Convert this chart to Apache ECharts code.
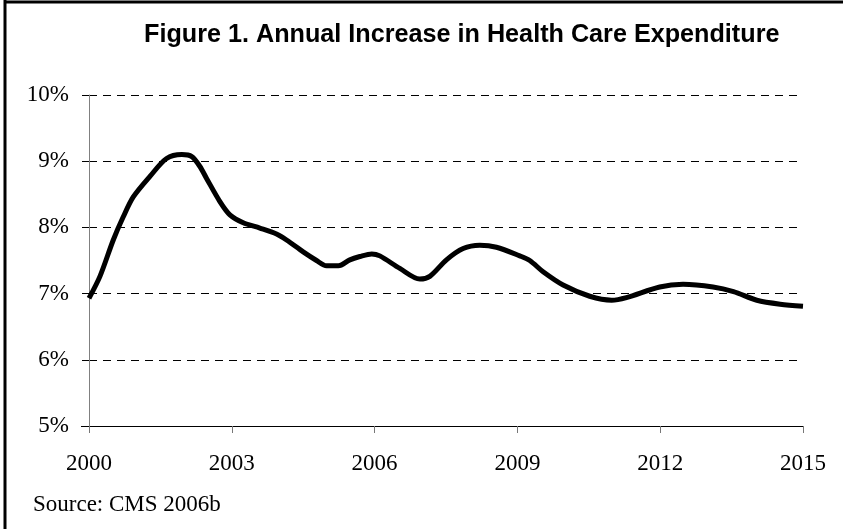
<!DOCTYPE html>
<html>
<head>
<meta charset="utf-8">
<script src="https://cdn.jsdelivr.net/npm/echarts@6/dist/echarts.min.js"></script>
<style>
html,body{margin:0;padding:0;background:#fff;}
#chart{width:845px;height:529px;}
</style>
</head>
<body>
<div id="chart"></div>
<script>
const titleText = 'Figure 1. Annual Increase in Health Care Expenditure';
const sourceText = 'Source: CMS 2006b';
const years = [2000.00,2000.23,2000.51,2000.72,2000.93,2001.28,2001.63,2001.95,2002.16,2002.33,2002.47,2002.75,2002.96,2003.24,2003.59,2003.94,2004.15,2004.50,2004.78,2004.99,2005.24,2005.48,2005.69,2005.94,2006.11,2006.53,2006.95,2007.16,2007.51,2007.86,2008.21,2008.56,2009.05,2009.26,2009.54,2009.96,2010.52,2010.98,2011.29,2011.99,2012.48,2013.11,2013.54,2014.03,2014.52,2015.00];
const values = [6.93,7.26,7.81,8.16,8.46,8.77,9.04,9.10,9.07,8.92,8.74,8.39,8.19,8.07,7.99,7.90,7.81,7.63,7.50,7.42,7.42,7.51,7.56,7.60,7.57,7.38,7.22,7.26,7.51,7.68,7.73,7.70,7.57,7.50,7.33,7.13,6.96,6.90,6.94,7.10,7.14,7.10,7.03,6.90,6.84,6.81];
const xTicks = [2000, 2003, 2006, 2009, 2012, 2015];
const yTicks = [5, 6, 7, 8, 9, 10];

const serif = '"Liberation Serif", "Times New Roman", serif';
const sans = '"Liberation Sans", Arial, sans-serif';
// fit title to the reference width (~637px)
const ctx = document.createElement('canvas').getContext('2d');
ctx.font = 'bold 100px ' + sans;
const titleSize = Math.min(28, Math.floor(100 * 637 / ctx.measureText(titleText).width * 10) / 10);

const chart = echarts.init(document.getElementById('chart'), null, {renderer: 'canvas'});
chart.setOption({
  animation: false,
  backgroundColor: '#fff',
  title: {
    text: titleText,
    left: 139,
    top: 18,
    textStyle: {fontFamily: sans, fontWeight: 'bold', fontSize: titleSize, color: '#000'}
  },
  graphic: [
    {type: 'line', shape: {x1: 5, y1: 0, x2: 5, y2: 529}, style: {stroke: '#000', lineWidth: 3}},
    {type: 'line', shape: {x1: 4, y1: 2, x2: 843, y2: 2}, style: {stroke: '#000', lineWidth: 3}},
    {type: 'line', shape: {x1: 81, y1: 426.5, x2: 89, y2: 426.5}, style: {stroke: '#000', lineWidth: 1}},
    {type: 'text', left: 33, top: 493, style: {text: sourceText, font: '23px ' + serif, fill: '#000'}}
  ],
  grid: {left: 89, right: 42, top: 95, bottom: 103, containLabel: false},
  xAxis: {
    type: 'value',
    min: 2000, max: 2015, interval: 3,
    axisLine: {show: true, onZero: false, lineStyle: {color: '#000', width: 1}},
    axisTick: {show: true, length: 7, lineStyle: {color: '#777'}, customValues: xTicks},
    axisLabel: {fontFamily: serif, fontSize: 23, color: '#000', margin: 26, customValues: xTicks, formatter: v => String(v)},
    splitLine: {show: false}
  },
  yAxis: {
    type: 'value',
    min: 5, max: 10, interval: 1,
    axisLine: {show: true, lineStyle: {color: '#808080', width: 1}},
    axisTick: {show: true, length: 7, lineStyle: {color: '#000'}},
    axisLabel: {fontFamily: serif, fontSize: 23, color: '#000', margin: 20, formatter: v => yTicks.includes(v) ? v + '%' : ''},
    splitLine: {show: true, lineStyle: {color: '#000', width: 1, type: [8, 6]}}
  },
  series: [{
    type: 'line',
    data: years.map((y, i) => [y, values[i]]),
    smooth: 0.3,
    showSymbol: false,
    lineStyle: {color: '#000', width: 5},
    clip: false
  }]
});
</script>
</body>
</html>
